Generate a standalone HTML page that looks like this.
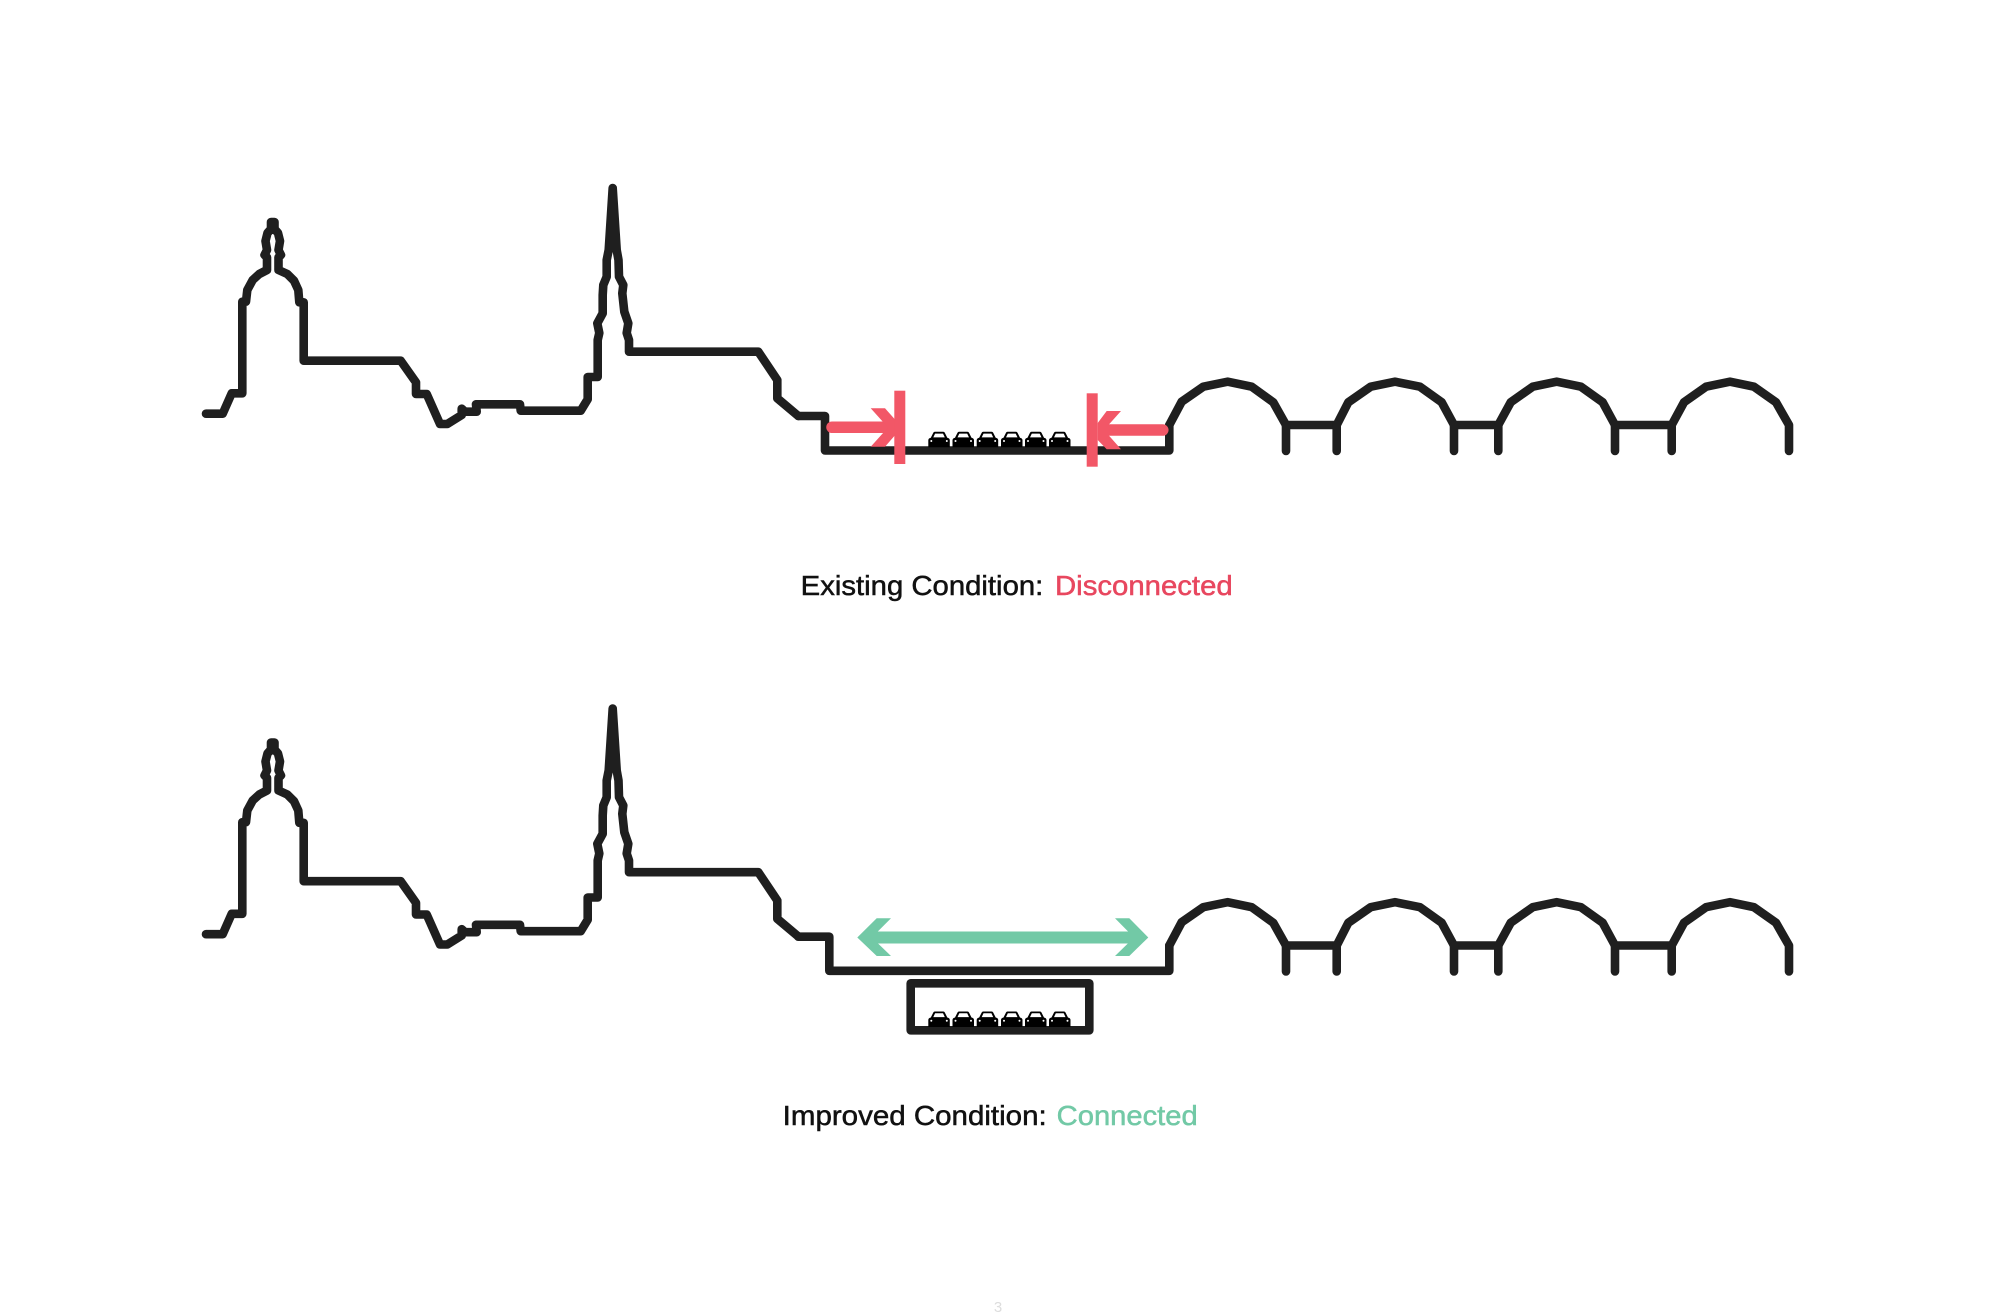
<!DOCTYPE html>
<html lang="en">
<head>
<meta charset="utf-8">
<title>Existing and Improved Condition</title>
<style>
html,body{margin:0;padding:0;background:#fff}
svg{display:block}
text{font-family:"Liberation Sans",Arial,sans-serif}
</style>
</head>
<body>
<svg xmlns="http://www.w3.org/2000/svg" width="1996" height="1313" viewBox="0 0 1996 1313">
<rect width="1996" height="1313" fill="#fff"/>
<defs>
<g id="sky" fill="none" stroke="#1f1f1f" stroke-width="8.6" stroke-linejoin="round" stroke-linecap="round">
<path d="M206,413.7 L222.7,413.7 L231.7,393.3 L242.3,393.3 L242.3,301.7 L246,301.7 L247.3,290 L252.7,280 L259.3,274 L267,270 L267,257.3 L264.5,255 L267,250 L265.5,241 L267.5,233 L271,229 L271,222 L274.5,222 L274.5,229 L278,233 L280,241 L278.5,250 L281,255 L278.5,257.3 L278.5,270 L287.3,274 L294,280.7 L298.3,290 L299.3,302.3 L303.7,302.3 L303.7,360.7 L400.7,360.7 L416,382.3 L416,394 L426.7,394 L440,424 L447.3,424 L461.7,415 L461.7,408.7 L465,411.7 L476.7,411.7 L476,404.3 L520,404.3 L520.7,410.7 L580.7,410.7 L587.7,399.3 L587.7,377 L597.7,377 L597.7,340 L599.3,333 L597.3,323.3 L602.7,313.3 L602.7,295 L603.3,285 L606.7,276.7 L606.7,260 L608.7,250 L612.7,188 L616.7,250 L618.5,260 L619,276.7 L623.3,285 L622.3,293.3 L624.3,311.7 L628.3,323.3 L626.7,333 L629,340 L629,351.7 L758.3,351.7 L777.3,380 L777.3,398.3 L798.3,416"/>
<path d="M1169.3,425 L1181.7,401.7 L1203.3,386.7 L1227.7,381.7 L1251.7,386.7 L1273.3,402.3 L1286,425 L1336.7,425 L1348.3,402.3 L1370.7,386.7 L1395,381.7 L1420,386.7 L1441.7,402.3 L1454,425 L1498.3,425 L1510.7,402.3 L1532.7,386.7 L1556.7,381.7 L1581,386.7 L1602.7,402.3 L1615,425 L1671.7,425 L1684,402.3 L1706,386.7 L1730,381.7 L1754,386.7 L1776,402.3 L1789,425 L1789,451"/>
<path d="M1286,425V451M1336.7,425V451M1454,425V451M1498.3,425V451M1615,425V451M1671.7,425V451"/>
</g>
<g id="car">
<path d="M0,15.5 V8.5 Q0,6.5 2.5,6 L5,1 Q5.5,0 6.5,0 H15 Q16,0 16.5,1 L19,6 Q21.5,6.5 21.5,8.5 V15.5 Z" fill="#000"/>
<path d="M5,5.6 L6.8,1.8 H14.7 L16.5,5.6 Z" fill="#fff"/>
<circle cx="3" cy="9.2" r="1" fill="#fff"/>
<circle cx="18.5" cy="9.2" r="1" fill="#fff"/>
</g>
<g id="cars">
<use href="#car" x="928.3"/>
<use href="#car" x="952.5"/>
<use href="#car" x="976.7"/>
<use href="#car" x="1001"/>
<use href="#car" x="1025"/>
<use href="#car" x="1049"/>
</g>
</defs>

<!-- Existing condition -->
<use href="#sky"/>
<path d="M798.3,416 H825 V450.5 H1169.3 V425" fill="none" stroke="#1f1f1f" stroke-width="8.6" stroke-linejoin="round" stroke-linecap="round"/>
<use href="#cars" y="431.8"/>
<g fill="#f25767">
<path d="M832,421.5 H897 V433 H832 A5.75,5.75 0 0 1 832,421.5 Z"/>
<path d="M870.7,408.3 H885 L897,421.7 V433 L885,446.7 H870.7 L888,427.5 Z"/>
<rect x="894.3" y="390.7" width="11" height="73.3"/>
<path d="M1162.8,424.3 H1098 V435.8 H1162.8 A5.75,5.75 0 0 0 1162.8,424.3 Z"/>
<path d="M1121,411 H1106.7 L1097.7,423 V440 L1106.7,449.3 H1121 L1104,430 Z"/>
<rect x="1086.7" y="393.3" width="11" height="73.4"/>
</g>
<g font-size="27.5" stroke-width=".5">
<text x="800.7" y="595" fill="#111" stroke="#111" textLength="242.6" lengthAdjust="spacingAndGlyphs">Existing Condition:</text>
<text x="1055" y="595" fill="#e8475f" stroke="#e8475f" textLength="177.7" lengthAdjust="spacingAndGlyphs">Disconnected</text>
<text x="782.7" y="1125" fill="#111" stroke="#111" textLength="264" lengthAdjust="spacingAndGlyphs">Improved Condition:</text>
<text x="1056.7" y="1125" fill="#72c9a6" stroke="#72c9a6" textLength="141" lengthAdjust="spacingAndGlyphs">Connected</text>
</g>

<!-- Improved condition -->
<use href="#sky" y="520.5"/>
<path d="M798.3,936.7 H829.3 V970.8 H1169.3 V945.5" fill="none" stroke="#1f1f1f" stroke-width="8.6" stroke-linejoin="round" stroke-linecap="round"/>
<rect x="910.7" y="983.3" width="178.6" height="47" fill="none" stroke="#1f1f1f" stroke-width="8.6" stroke-linejoin="round"/>
<use href="#cars" y="1011.5"/>
<g fill="#72c9a6">
<rect x="868" y="931.5" width="270" height="12"/>
<path d="M857.3,937.5 L876.7,918.3 H891 L871.8,937.5 L891,956 H876.7 Z"/>
<path d="M1148.3,937.5 L1129.3,918.3 H1115 L1134,937.5 L1115,956 H1129.3 Z"/>
</g>

<text x="998" y="1312" font-size="15" fill="#ddd" text-anchor="middle">3</text>
</svg>
</body>
</html>
